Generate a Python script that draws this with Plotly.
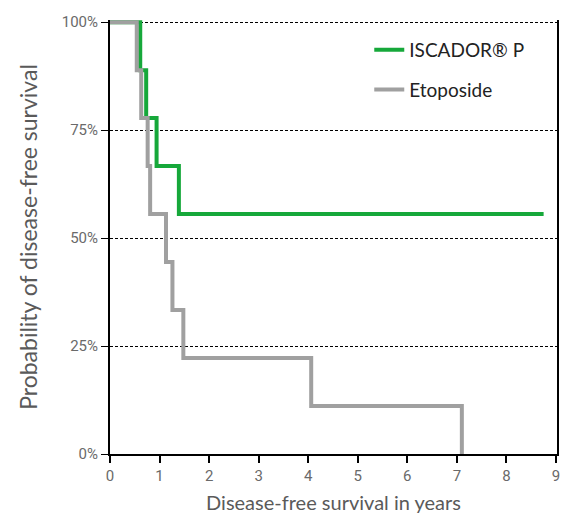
import plotly.graph_objects as go

# Kaplan-Meier step data (years, survival fraction)
iscador_years = [0, 0.61, 0.73, 0.94, 1.39, 8.75]
iscador_surv = [1.0, 8/9, 7/9, 6/9, 5/9, 5/9]

etoposide_years = [0, 0.54, 0.63, 0.76, 0.81, 1.13, 1.26, 1.48, 4.06, 7.10, 7.10]
etoposide_surv = [1.0, 8/9, 7/9, 6/9, 5/9, 4/9, 3/9, 2/9, 1/9, 0.0, 0.0]

y_tick_vals = [0, 0.25, 0.5, 0.75, 1.0]
y_tick_text = ["0%", "25%", "50%", "75%", "100%"]
x_tick_vals = list(range(10))

GREEN = "#16a83a"
GREY = "#a0a0a0"
TICK_FONT = dict(family="Roboto, sans-serif", size=15, color="#6a6a6a")
X_TITLE_FONT = dict(family="Lato, Noto Sans, sans-serif", size=20, color="#5a5a5a")
Y_TITLE_FONT = dict(family="Lato, Noto Sans, sans-serif", size=23, color="#5a5a5a")

fig = go.Figure()
fig.add_trace(go.Scatter(
    x=iscador_years, y=iscador_surv, mode="lines", name="ISCADOR® P",
    legendgroup="a", line=dict(color=GREEN, width=4, shape="hv"),
))
fig.add_trace(go.Scatter(
    x=etoposide_years, y=etoposide_surv, mode="lines", name="Etoposide",
    legendgroup="b", line=dict(color=GREY, width=4, shape="hv"),
))

fig.update_layout(
    width=561, height=521,
    margin=dict(l=110, r=1, t=20, b=67),
    plot_bgcolor="white", paper_bgcolor="white",
    showlegend=True,
    legend=dict(
        x=0.58, y=0.975, xanchor="left", yanchor="top",
        bgcolor="rgba(0,0,0,0)", traceorder="grouped", tracegroupgap=12,
        font=dict(family="Lato, Noto Sans, sans-serif", size=19, color="#222222"),
        itemwidth=30,
    ),
    xaxis=dict(
        range=[0, 9.02], tickvals=x_tick_vals, ticks="outside", ticklen=7, tickwidth=2,
        tickcolor="black", showline=True, linecolor="black", linewidth=2,
        showgrid=False, zeroline=False, tickfont=TICK_FONT, ticklabeloverflow="allow",
        title=dict(text="Disease-free survival in years", font=X_TITLE_FONT, standoff=12),
    ),
    yaxis=dict(
        range=[0, 1.005], tickvals=y_tick_vals, ticktext=y_tick_text, ticks="outside",
        ticklen=7, tickwidth=1, tickcolor="black", showline=True, linecolor="black",
        linewidth=2, mirror=True, showgrid=True, gridcolor="black", gridwidth=1,
        griddash="3px,2px", zeroline=False, tickfont=TICK_FONT,
        title=dict(text="Probability of disease-free survival", font=Y_TITLE_FONT, standoff=18),
    ),
)

fig.write_html("out.html")
